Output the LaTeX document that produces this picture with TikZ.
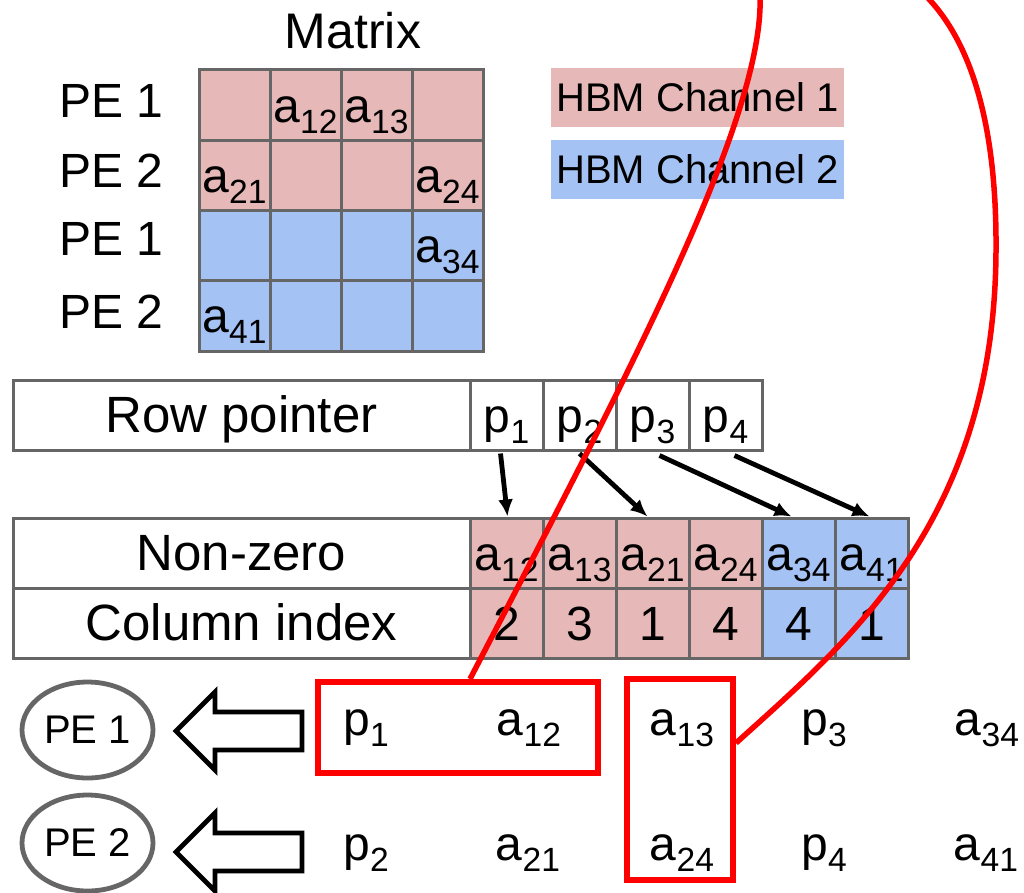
\documentclass[tikz,border=0pt]{standalone}
\usepackage{fontspec}
\setmainfont{Liberation Sans}
\usepackage{graphicx}
\usetikzlibrary{arrows.meta,shapes.geometric,calc}
\definecolor{pinkc}{HTML}{E6B8B7}
\definecolor{bluec}{HTML}{A4C2F4}
\definecolor{gridc}{HTML}{666666}
\definecolor{redc}{HTML}{FF0000}
\newcommand{\sx}[2]{#1\raisebox{-0.23em}{\scalebox{0.7}{#2}}}
\begin{document}
\begin{tikzpicture}[x=1pt,y=-1pt,
  big/.style={font=\fontsize{48}{56}\selectfont},
  cell/.style={draw=gridc, line width=3pt, minimum height=70pt, minimum width=73pt, inner sep=0pt,
    text height=34pt, text depth=0pt, big},
  labcell/.style={cell, minimum width=457pt, font=\fontsize{51}{60}\selectfont},
  mcell/.style={cell, minimum width=71pt, minimum height=70.25pt},
  pinkcell/.style={fill=pinkc},
  bluecell/.style={fill=bluec},
  legend/.style={minimum width=293pt, minimum height=59pt, inner sep=0pt, font=\fontsize{40}{48}\selectfont},
  rowlab/.style={anchor=base west, big},
  seq/.style={anchor=base, big},
  pe/.style={ellipse, draw=gridc, line width=4.8pt, minimum width=131pt, minimum height=96pt, inner sep=0pt,
    font=\fontsize{40}{48}\selectfont},
  blockarrow/.style={draw=black, line width=4.8pt, line join=miter, fill=white},
  ptr/.style={draw=black, line width=4.8pt, -{Latex[length=17pt,width=15pt]}},
  redbox/.style={draw=redc, line width=6pt, inner sep=0pt},
  redline/.style={draw=redc, line width=5.5pt}
]
\useasboundingbox (0,0) rectangle (1024,892);

% Matrix title
\node[anchor=base, font=\fontsize{50}{60}\selectfont] (title) at (353,48) {Matrix};

% Matrix cells
\node[mcell,pinkcell] (m11) at (234.5,105.1) {};
\node[mcell,pinkcell] (m12) at (305.5,105.1) {\sx{a}{12}};
\node[mcell,pinkcell] (m13) at (376.5,105.1) {\sx{a}{13}};
\node[mcell,pinkcell] (m14) at (447.5,105.1) {};
\node[mcell,pinkcell] (m21) at (234.5,175.4) {\sx{a}{21}};
\node[mcell,pinkcell] (m22) at (305.5,175.4) {};
\node[mcell,pinkcell] (m23) at (376.5,175.4) {};
\node[mcell,pinkcell] (m24) at (447.5,175.4) {\sx{a}{24}};
\node[mcell,bluecell] (m31) at (234.5,245.6) {};
\node[mcell,bluecell] (m32) at (305.5,245.6) {};
\node[mcell,bluecell] (m33) at (376.5,245.6) {};
\node[mcell,bluecell] (m34) at (447.5,245.6) {\sx{a}{34}};
\node[mcell,bluecell] (m41) at (234.5,315.9) {\sx{a}{41}};
\node[mcell,bluecell] (m42) at (305.5,315.9) {};
\node[mcell,bluecell] (m43) at (376.5,315.9) {};
\node[mcell,bluecell] (m44) at (447.5,315.9) {};

% Row labels
\node[rowlab] (l1) at (56,117) {PE 1};
\node[rowlab] (l2) at (56,187) {PE 2};
\node[rowlab] (l3) at (56,255) {PE 1};
\node[rowlab] (l4) at (56,328) {PE 2};

% Legend
\node[legend, fill=pinkc] (h1) at (697.5,97.5) {HBM Channel 1};
\node[legend, fill=bluec] (h2) at (697.5,169.5) {HBM Channel 2};

% Row pointer table
\node[labcell] (rp) at (241.5,415) {Row pointer};
\node[cell] (p1) at (506.5,415) {\sx{p}{1}};
\node[cell] (p2) at (579.5,415) {\sx{p}{2}};
\node[cell] (p3) at (652.5,415) {\sx{p}{3}};
\node[cell] (p4) at (725.5,415) {\sx{p}{4}};

% Non-zero / Column index table
\node[labcell] (nz) at (241.5,553) {Non-zero};
\node[labcell] (ci) at (241.5,623) {Column index};
\node[cell,pinkcell] (n1) at (506.5,553) {\sx{a}{12}};
\node[cell,pinkcell] (n2) at (579.5,553) {\sx{a}{13}};
\node[cell,pinkcell] (n3) at (652.5,553) {\sx{a}{21}};
\node[cell,pinkcell] (n4) at (725.5,553) {\sx{a}{24}};
\node[cell,bluecell] (n5) at (798.5,553) {\sx{a}{34}};
\node[cell,bluecell] (n6) at (871.5,553) {\sx{a}{41}};
\node[cell,pinkcell] (c1) at (506.5,623) {2};
\node[cell,pinkcell] (c2) at (579.5,623) {3};
\node[cell,pinkcell] (c3) at (652.5,623) {1};
\node[cell,pinkcell] (c4) at (725.5,623) {4};
\node[cell,bluecell] (c5) at (798.5,623) {4};
\node[cell,bluecell] (c6) at (871.5,623) {1};

% Pointer arrows
\draw[ptr] ([xshift=-6pt,yshift=-2pt]p1.south) -- ([xshift=1pt]n1.north);
\draw[ptr] ([xshift=0pt,yshift=-2pt]p2.south) -- ([xshift=-5pt]n3.north);
\draw[ptr] ([xshift=7pt,yshift=-4pt]p3.south) -- ([xshift=-7pt]n5.north);
\draw[ptr] ([xshift=9pt,yshift=-4pt]p4.south) -- ([xshift=-2pt]n6.north);

% PEs and block arrows
\node[pe] (pe1) at (87.5,730) {PE 1};
\node[pe] (pe2) at (87.5,843) {PE 2};
\draw[blockarrow] (176,731) -- (215,692) -- (215,712) -- (302,712) -- (302,750) -- (215,750) -- (215,770) -- cycle;
\draw[blockarrow] (176,852) -- (215,813) -- (215,833) -- (302,833) -- (302,871) -- (215,871) -- (215,891) -- cycle;

% Sequences
\node[seq] (s11) at (366,735) {\sx{p}{1}};
\node[seq] (s12) at (529,735) {\sx{a}{12}};
\node[seq] (s13) at (682,735) {\sx{a}{13}};
\node[seq] (s14) at (824,735) {\sx{p}{3}};
\node[seq] (s15) at (987,735) {\sx{a}{34}};
\node[seq] (s21) at (366,860) {\sx{p}{2}};
\node[seq] (s22) at (528,860) {\sx{a}{21}};
\node[seq] (s23) at (682,860) {\sx{a}{24}};
\node[seq] (s24) at (824,860) {\sx{p}{4}};
\node[seq] (s25) at (986,860) {\sx{a}{41}};

% Red boxes
\node[redbox, minimum width=280pt, minimum height=91pt] (r1) at (458,727.5) {};
\node[redbox, minimum width=106pt, minimum height=201pt] (r2) at (680,779.5) {};

% Red curves
\coordinate (e1) at (760,-5);
\coordinate (e2) at (925,-5);
\begin{scope}
\clip (0,0) rectangle (1024,892);
\draw[redline] ([xshift=12pt]r1.north) .. controls (620,390) and (765,120) .. (e1);
\draw[redline] ([yshift=36.5pt]r2.east) .. controls (850,640) and (995,520) .. (996,250)
   .. controls (997,100) and (960,30) .. (e2);
\end{scope}
\end{tikzpicture}
\end{document}
